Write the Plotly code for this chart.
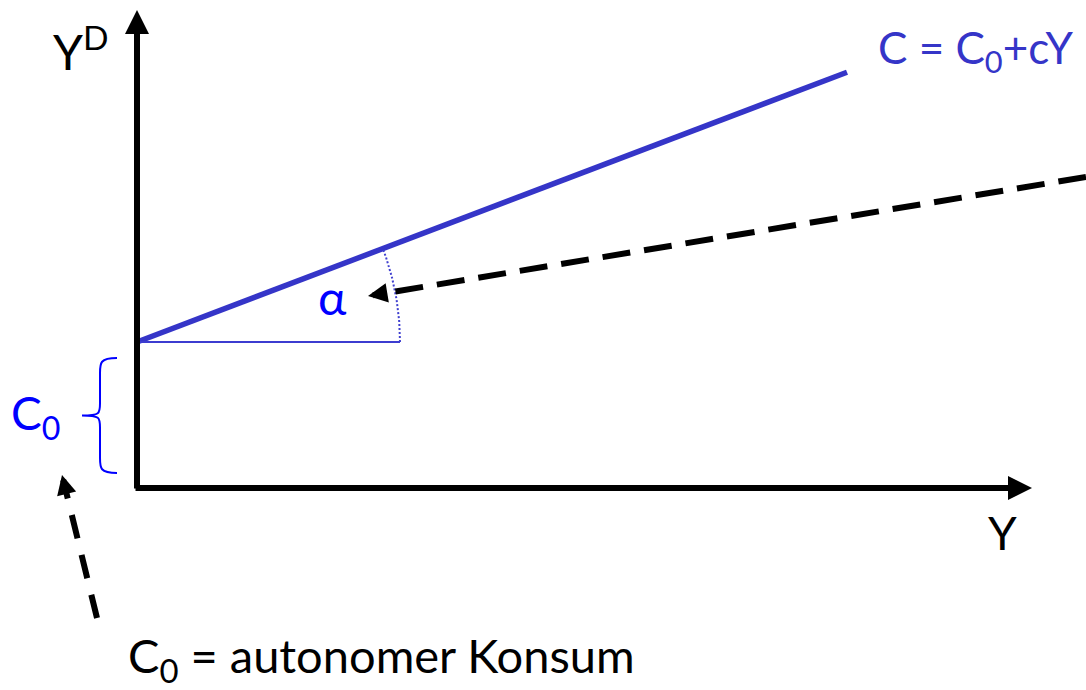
import numpy as np
import plotly.graph_objects as go

# --- data (diagram units: 1 unit = 100 px) ---
C0 = 1.46            # autonomous consumption (intercept)
c = 0.38             # marginal propensity to consume (slope)
y_line_end = 7.10    # last income value drawn for the consumption line
alpha_radius = 2.63  # radius of the angle arc
x_axis_end = 8.95
y_axis_end = 4.78

brace_top = 1.30
brace_bottom = 0.15
brace_x = -0.20

# dashed pointer arrows: [tail, tip]
alpha_ptr_x = [9.49, 2.31]
alpha_ptr_y = [3.11, 1.92]
c0_ptr_x = [-0.40, -0.75]
c0_ptr_y = [-1.30, 0.13]

LINE_BLUE = "#3535C8"
TEXT_BLUE = "#0000FF"
FONT = "Lato, 'Open Sans', sans-serif"

fig = go.Figure()

# consumption line
xs = np.array([0.0, y_line_end])
fig.add_trace(go.Scatter(x=xs, y=C0 + c * xs, mode="lines",
                         line=dict(color=LINE_BLUE, width=5.5), hoverinfo="skip"))
# horizontal reference for alpha
fig.add_trace(go.Scatter(x=[0, alpha_radius], y=[C0, C0], mode="lines",
                         line=dict(color="#3C3CD0", width=2), hoverinfo="skip"))
# dotted arc
t = np.linspace(0, np.arctan(c), 40)
fig.add_trace(go.Scatter(x=alpha_radius * np.cos(t), y=C0 + alpha_radius * np.sin(t),
                         mode="lines", line=dict(color="#4040D0", width=2, dash="2px,2px"),
                         hoverinfo="skip"))

# brace for C0 (path built from data)
mid = (brace_top + brace_bottom) / 2
xs_sp = brace_x - 0.17
xt = brace_x - 0.35
path = (f"M{brace_x},{brace_top} "
        f"C{xs_sp},{brace_top} {xs_sp},{brace_top - 0.05} {xs_sp},{brace_top - 0.15} "
        f"L{xs_sp},{mid + 0.12} "
        f"C{xs_sp},{mid + 0.02} {xs_sp},{mid} {xt},{mid} "
        f"C{xs_sp},{mid} {xs_sp},{mid - 0.02} {xs_sp},{mid - 0.12} "
        f"L{xs_sp},{brace_bottom + 0.15} "
        f"C{xs_sp},{brace_bottom + 0.05} {xs_sp},{brace_bottom} {brace_x},{brace_bottom}")
fig.add_shape(type="path", path=path, xref="x", yref="y",
              line=dict(color=TEXT_BLUE, width=2))

# dashed pointer lines
def dashed_pointer(px, py, dash, width):
    dx, dy = px[1] - px[0], py[1] - py[0]
    L = np.hypot(dx, dy)
    ux, uy = dx / L, dy / L
    back = 0.18
    fig.add_trace(go.Scatter(x=[px[0], px[1] - ux * back], y=[py[0], py[1] - uy * back],
                             mode="lines", line=dict(color="black", width=width, dash=dash),
                             hoverinfo="skip"))
    fig.add_annotation(x=px[1], y=py[1], ax=px[1] - ux * 0.17, ay=py[1] - uy * 0.17,
                       xref="x", yref="y", axref="x", ayref="y", text="",
                       showarrow=True, arrowhead=2, arrowwidth=width, arrowsize=0.65,
                       arrowcolor="black", standoff=0)

dashed_pointer(alpha_ptr_x, alpha_ptr_y, "28px,14px", 6)
dashed_pointer(c0_ptr_x, c0_ptr_y, "24px,17px", 6)

# axes with arrows
fig.add_annotation(x=x_axis_end, y=0, ax=-0.03, ay=0, xref="x", yref="y", axref="x", ayref="y",
                   text="", showarrow=True, arrowhead=2, arrowwidth=6, arrowsize=0.8,
                   arrowcolor="black", standoff=0)
fig.add_annotation(x=0, y=y_axis_end, ax=0, ay=-0.02, xref="x", yref="y", axref="x", ayref="y",
                   text="", showarrow=True, arrowhead=2, arrowwidth=6, arrowsize=0.8,
                   arrowcolor="black", standoff=0)

# texts
def txt(x, y, s, size, color="black"):
    fig.add_annotation(x=x, y=y, xref="x", yref="y", text=s, showarrow=False,
                       xanchor="center", yanchor="middle",
                       font=dict(family=FONT, size=size, color=color))

txt(-0.56, 4.40, "Y<sup>D</sup>", 48)
txt(8.38, 4.38, "C = C<sub>0</sub>+cY", 44, LINE_BLUE)
txt(1.95, 1.92, "α", 48, TEXT_BLUE)
txt(-1.02, 0.72, "C<sub>0</sub>", 46, TEXT_BLUE)
txt(8.65, -0.44, "Y", 46)
txt(2.44, -1.70, "C<sub>0</sub> = autonomer Konsum", 47)

fig.update_layout(
    width=1086, height=690, margin=dict(l=0, r=0, t=0, b=0),
    paper_bgcolor="white", plot_bgcolor="white", showlegend=False,
    xaxis=dict(range=[-1.37, 9.49], visible=False, fixedrange=True),
    yaxis=dict(range=[-2.02, 4.88], visible=False, fixedrange=True),
)
fig.write_html("out.html", config={"displayModeBar": False},
               post_script="document.body.style.margin='0';")
